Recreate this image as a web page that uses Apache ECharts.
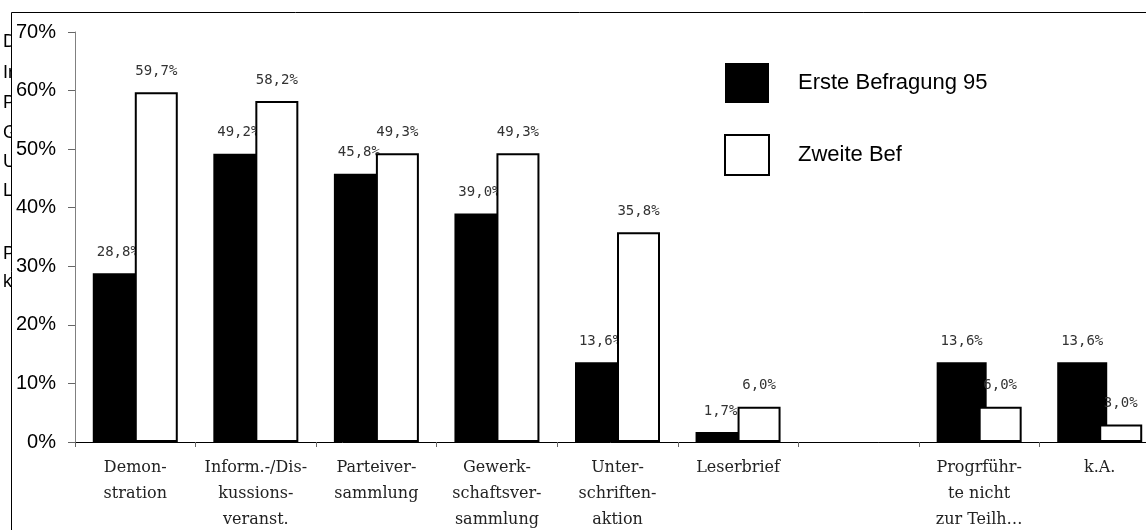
<!DOCTYPE html>
<html>
<head>
<meta charset="utf-8">
<script src="https://cdn.jsdelivr.net/npm/echarts@6/dist/echarts.min.js"></script>
<style>
  html, body { margin: 0; padding: 0; background: #fff; }
  #chart { width: 1146px; height: 530px; }
</style>
</head>
<body>
<div id="chart"></div>
<script>
// Survey categories (x axis), one empty slot between Leserbrief and Progr…
const categories = [
  'Demon-\nstration',
  'Inform.-/Dis-\nkussions-\nveranst.',
  'Parteiver-\nsammlung',
  'Gewerk-\nschaftsver-\nsammlung',
  'Unter-\nschriften-\naktion',
  'Leserbrief',
  '',
  'Progrführ-\nte nicht\nzur Teilh…',
  'k.A.'
];

// Row names of the side table, clipped by the chart frame
const rowNames = [
  'Demonstration',
  'Inform.-/Diskussionsveranst.',
  'Parteiversammlung',
  'Gewerkschaftsversammlung',
  'Unterschriftenaktion',
  'Leserbrief',
  'Progr führte nicht zur Teilnahme',
  'k.A.'
];
const rowY = [43, 74, 104, 134, 163, 192, 255, 283];

const seriesNames = ['Erste Befragung 95', 'Zweite Bef'];

// Percent values per category
const ersteBefragung = [28.8, 49.2, 45.8, 39.0, 13.6, 1.7, null, 13.6, 13.6];
const zweiteBefragung = [59.7, 58.2, 49.3, 49.3, 35.8, 6.0, null, 6.0, 3.0];

// Y axis ticks
const yMin = 0, yMax = 70, yStep = 10;

const pctLabel = p => p.value == null ? '' : p.value.toFixed(1).replace('.', ',') + '%';

const labelStyle = {
  show: true,
  position: 'top',
  distance: 14,
  fontFamily: 'DejaVu Sans Mono',
  fontSize: 14,
  color: '#333',
  formatter: pctLabel
};

const chart = echarts.init(document.getElementById('chart'), null, { renderer: 'canvas' });

const graphics = rowNames.map((t, i) => ({
  type: 'text',
  left: 3,
  top: rowY[i] - 10,
  z: -2,
  style: { text: t, fontFamily: 'Liberation Sans', fontSize: 18, fill: '#000' }
}));
// Chart frame (white area covers the overflowing table text)
graphics.push({
  type: 'rect',
  z: -1,
  shape: { x: 11.5, y: 12.5, width: 1300, height: 700 },
  style: { fill: '#fff', stroke: '#000', lineWidth: 1 }
});

chart.setOption({
  animation: false,
  backgroundColor: '#fff',
  graphic: graphics,
  grid: { left: 75, top: 32, width: 1085, height: 410, containLabel: false, outerBoundsMode: 'none' },
  legend: {
    orient: 'vertical',
    left: 719,
    top: 58,
    itemWidth: 44,
    itemHeight: 40,
    itemGap: 31,
    icon: 'rect',
    textStyle: { fontFamily: 'Liberation Sans', fontSize: 22, color: '#000', padding: [0, 0, 0, 24] },
    data: [
      { name: seriesNames[0], itemStyle: { color: '#000' } },
      { name: seriesNames[1], itemStyle: { color: '#fff', borderColor: '#000', borderWidth: 2 } }
    ]
  },
  xAxis: {
    type: 'category',
    data: categories,
    axisLine: { lineStyle: { color: '#000', width: 1 } },
    axisTick: { show: true, length: 5, lineStyle: { color: '#666' } },
    axisLabel: {
      interval: 0,
      margin: 13,
      fontFamily: 'DejaVu Serif',
      fontSize: 16,
      lineHeight: 26,
      color: '#222'
    },
    splitLine: { show: false }
  },
  yAxis: {
    type: 'value',
    min: yMin,
    max: yMax,
    interval: yStep,
    axisLine: { show: true, lineStyle: { color: '#808080', width: 1 } },
    axisTick: { show: true, length: 7, lineStyle: { color: '#666' } },
    axisLabel: {
      margin: 19,
      fontFamily: 'Liberation Sans',
      fontSize: 20,
      color: '#000',
      formatter: '{value}%'
    },
    splitLine: { show: false }
  },
  series: [
    {
      name: seriesNames[0],
      type: 'bar',
      data: ersteBefragung,
      barWidth: 50,
      barGap: '-16%',
      z: 2,
      itemStyle: { color: '#000' },
      label: labelStyle
    },
    {
      name: seriesNames[1],
      type: 'bar',
      data: zweiteBefragung,
      barWidth: 43,
      barGap: '-16%',
      z: 3,
      itemStyle: { color: '#fff', borderColor: '#000', borderWidth: 2 },
      label: labelStyle
    }
  ]
});
</script>
</body>
</html>
